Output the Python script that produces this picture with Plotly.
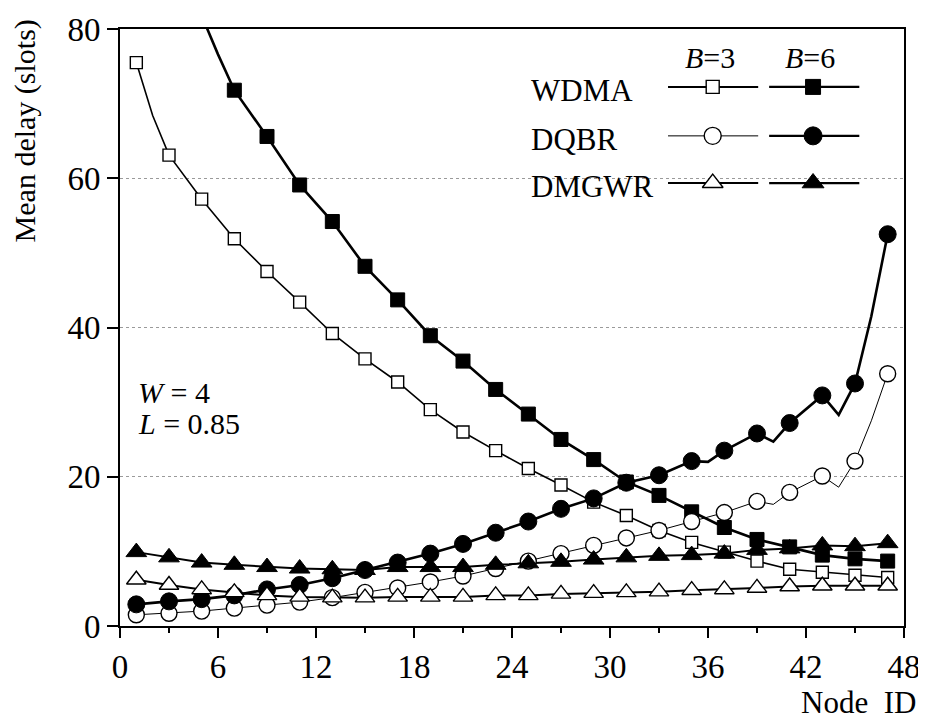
import plotly.graph_objects as go

# ---------------- data ----------------
nodes = list(range(1, 48, 2))  # marker positions: odd node IDs 1..47

wdma_b3 = [75.5, 63.1, 57.2, 51.9, 47.5, 43.4, 39.2, 35.8, 32.7, 29.0, 26.0, 23.5,
           21.1, 18.9, 16.6, 14.8, 12.8, 11.2, 9.9, 8.7, 7.6, 7.2, 6.8, 6.5]
wdma_b6 = [None, None, 81.8, 71.8, 65.6, 59.1, 54.2, 48.2, 43.7, 38.9, 35.5, 31.7,
           28.4, 25.0, 22.3, 19.3, 17.5, 15.3, 13.2, 11.6, 10.6, 9.5, 9.0, 8.7]
dqbr_b3 = [1.5, 1.7, 2.0, 2.4, 2.8, 3.2, 3.8, 4.5, 5.1, 5.9, 6.7, 7.7,
           8.7, 9.7, 10.8, 11.8, 12.8, 14.0, 15.2, 16.7, 17.9, 20.1, 22.1, 33.8]
dqbr_b6 = [2.9, 3.3, 3.6, 4.1, 4.9, 5.5, 6.4, 7.5, 8.5, 9.7, 11.0, 12.5,
           14.0, 15.7, 17.1, 19.2, 20.2, 22.1, 23.5, 25.8, 27.2, 30.9, 32.5, 52.5]
dmgwr_b3 = [6.2, 5.5, 4.9, 4.5, 4.1, 3.9, 3.8, 3.8, 3.9, 3.9, 3.9, 4.1,
            4.1, 4.3, 4.4, 4.5, 4.6, 4.8, 4.9, 5.1, 5.3, 5.4, 5.4, 5.4]
dmgwr_b6 = [9.9, 9.2, 8.5, 8.2, 7.9, 7.7, 7.6, 7.5, 7.9, 7.9, 7.9, 8.2,
            8.4, 8.6, 8.9, 9.2, 9.4, 9.5, 9.7, 10.2, 10.4, 10.8, 10.7, 11.1]

# intermediate (even-node) values where the curve visibly bends between markers
wdma_b3_even_nodes, wdma_b3_even = [2], [68.4]
wdma_b6_even_nodes, wdma_b6_even = [6], [76.6]
dqbr_b3_even_nodes, dqbr_b3_even = [40, 44, 46], [16.3, 18.6, 27.5]
dqbr_b6_even_nodes, dqbr_b6_even = [36, 40, 44, 46], [22.0, 24.7, 28.3, 41.5]

series_names = ["WDMA", "DQBR", "DMGWR"]
b_labels = ["<i>B</i>=3", "<i>B</i>=6"]
x_ticks = [0, 6, 12, 18, 24, 30, 36, 42, 48]
y_ticks = [0, 20, 40, 60, 80]

# ---------------- styling ----------------
FONT = "Liberation Serif"
BLACK = "black"

styles = {
    "wdma_b3": dict(symbol="square", fill="white", size=12, lw=1.6, mlw=1.4),
    "wdma_b6": dict(symbol="square", fill=BLACK, size=14, lw=2.6, mlw=1.0),
    "dqbr_b3": dict(symbol="circle", fill="white", size=16, lw=1.0, mlw=1.4),
    "dqbr_b6": dict(symbol="circle", fill=BLACK, size=17, lw=2.6, mlw=1.0),
    "dmgwr_b3": dict(symbol="triangle-up", fill="white", size=17, lw=2.0, mlw=1.4),
    "dmgwr_b6": dict(symbol="triangle-up", fill=BLACK, size=18, lw=2.0, mlw=1.0),
}

data = {
    "wdma_b3": (wdma_b3, wdma_b3_even_nodes, wdma_b3_even),
    "wdma_b6": (wdma_b6, wdma_b6_even_nodes, wdma_b6_even),
    "dqbr_b3": (dqbr_b3, dqbr_b3_even_nodes, dqbr_b3_even),
    "dqbr_b6": (dqbr_b6, dqbr_b6_even_nodes, dqbr_b6_even),
    "dmgwr_b3": (dmgwr_b3, [], []),
    "dmgwr_b6": (dmgwr_b6, [], []),
}

fig = go.Figure()

# lines first (through markers and the intermediate points)
for key, (vals, ex_n, ex_v) in data.items():
    pts = [(n, v) for n, v in zip(nodes, vals) if v is not None]
    pts += list(zip(ex_n, ex_v))
    pts.sort()
    st = styles[key]
    fig.add_trace(go.Scatter(
        x=[p[0] for p in pts], y=[p[1] for p in pts], mode="lines",
        line=dict(color=BLACK, width=st["lw"]), showlegend=False, hoverinfo="skip"))

# markers on top
for key, (vals, ex_n, ex_v) in data.items():
    st = styles[key]
    fig.add_trace(go.Scatter(
        x=nodes, y=vals, mode="markers",
        marker=dict(symbol=st["symbol"], size=st["size"], color=st["fill"],
                    line=dict(color=BLACK, width=st["mlw"])),
        showlegend=False))

# ---------------- hand-drawn legend (overlay axes in [0,1]) ----------------
row_y = [0.903, 0.821, 0.742]
col_x = [(0.699, 0.756, 0.814), (0.828, 0.884, 0.943)]
keys = [["wdma_b3", "wdma_b6"], ["dqbr_b3", "dqbr_b6"], ["dmgwr_b3", "dmgwr_b6"]]
leg_lw = {"wdma_b3": 2.0, "wdma_b6": 2.2, "dqbr_b3": 1.0, "dqbr_b6": 2.2,
          "dmgwr_b3": 2.0, "dmgwr_b6": 2.2}
for r, ry in enumerate(row_y):
    for c, (x0, xm, x1) in enumerate(col_x):
        k = keys[r][c]
        st = styles[k]
        fig.add_trace(go.Scatter(
            x=[x0, x1], y=[ry, ry], mode="lines", xaxis="x2", yaxis="y2",
            line=dict(color=BLACK, width=leg_lw[k]), showlegend=False, hoverinfo="skip"))
        fig.add_trace(go.Scatter(
            x=[xm], y=[ry], mode="markers", xaxis="x2", yaxis="y2",
            marker=dict(symbol=st["symbol"], size=st["size"] + 1, color=st["fill"],
                        line=dict(color=BLACK, width=st["mlw"])),
            showlegend=False, hoverinfo="skip"))

annotations = []
for name, ry in zip(series_names, row_y):
    annotations.append(dict(x=0.522, y=ry - 0.006, xref="paper", yref="paper",
                            text=name, showarrow=False, xanchor="left", yanchor="middle",
                            font=dict(family=FONT, size=31, color=BLACK)))
for lab, (x0, xm, x1) in zip(b_labels, col_x):
    annotations.append(dict(x=xm - 0.004, y=0.953, xref="paper", yref="paper",
                            text=lab, showarrow=False, xanchor="center", yanchor="middle",
                            font=dict(family=FONT, size=30, color=BLACK)))

annotations += [
    dict(x=0.020, y=0.391, xref="paper", yref="paper", text="<i>W</i> = 4",
         showarrow=False, xanchor="left", yanchor="middle",
         font=dict(family=FONT, size=30, color=BLACK)),
    dict(x=0.020, y=0.339, xref="paper", yref="paper", text="<i>L</i> = 0.85",
         showarrow=False, xanchor="left", yanchor="middle",
         font=dict(family=FONT, size=30, color=BLACK)),
    dict(x=-0.120, y=0.830, xref="paper", yref="paper", text="Mean delay (slots)",
         showarrow=False, textangle=-90, xanchor="center", yanchor="middle",
         font=dict(family=FONT, size=30, color=BLACK)),
    dict(x=1.018, y=-0.128, xref="paper", yref="paper", text="Node&nbsp;&nbsp;ID",
         showarrow=False, xanchor="right", yanchor="middle",
         font=dict(family=FONT, size=31, color=BLACK)),
]

# the page body has an 8px margin, so the figure is 8px smaller on each axis
fig.update_layout(
    width=918, height=716,
    margin=dict(l=112, r=22, t=21, b=98),
    paper_bgcolor="white", plot_bgcolor="white",
    font=dict(family=FONT, color=BLACK),
    showlegend=False,
    annotations=annotations,
    xaxis=dict(range=[0, 48], tickvals=x_ticks, ticktext=[str(v) for v in x_ticks],
               ticks="outside", ticklen=10, tickwidth=2, tickcolor=BLACK,
               showline=True, linewidth=2, linecolor=BLACK, mirror=True,
               showgrid=False, zeroline=False, automargin=False,
               tickfont=dict(family=FONT, size=33, color=BLACK),
               minor=dict(dtick=3, tick0=0, ticks="outside", ticklen=5, tickwidth=2,
                          tickcolor=BLACK, showgrid=False)),
    yaxis=dict(range=[0, 80], tickvals=y_ticks, ticktext=[str(v) for v in y_ticks],
               ticks="outside", ticklen=11, tickwidth=2, tickcolor=BLACK,
               showline=True, linewidth=2, linecolor=BLACK, mirror=True,
               showgrid=True, gridcolor="#9a9a9a", gridwidth=1, griddash="dot",
               zeroline=False, ticklabelstandoff=0, automargin=False,
               tickfont=dict(family=FONT, size=33, color=BLACK)),
    xaxis2=dict(overlaying="x", range=[0, 1], visible=False),
    yaxis2=dict(overlaying="y", range=[0, 1], visible=False),
)

fig.write_html("out.html")
